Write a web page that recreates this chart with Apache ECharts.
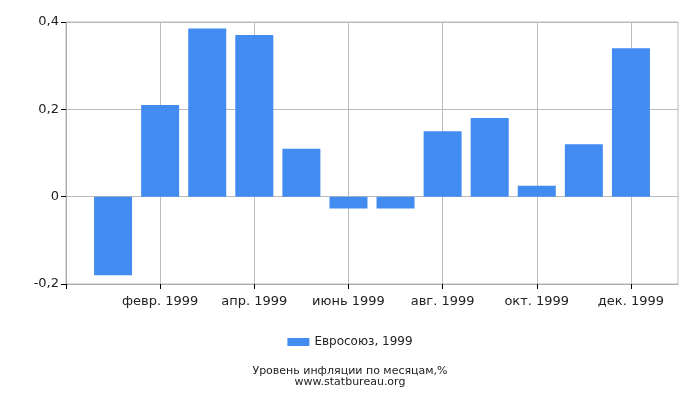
<!DOCTYPE html>
<html><head><meta charset="utf-8">
<script src="https://cdn.jsdelivr.net/npm/echarts@6/dist/echarts.min.js"></script>
<style>html,body{margin:0;padding:0;background:#fff}#c{width:700px;height:400px}</style>
</head><body><div id="c"></div>
<script>
var categories = ['', 'янв. 1999', 'февр. 1999', 'март 1999', 'апр. 1999', 'май 1999', 'июнь 1999', 'июль 1999', 'авг. 1999', 'сент. 1999', 'окт. 1999', 'нояб. 1999', 'дек. 1999', ''];
var values = [null, -0.18, 0.21, 0.385, 0.37, 0.11, -0.027, -0.027, 0.15, 0.18, 0.025, 0.12, 0.34, null];
var yTicks = [-0.2, 0, 0.2, 0.4];
var seriesName = 'Евросоюз, 1999';
var titleLines = ['Уровень инфляции по месяцам,%', 'www.statbureau.org'];

var chart = echarts.init(document.getElementById('c'), null, {renderer: 'canvas'});
var font = 'DejaVu Sans';
chart.setOption({
  animation: false,
  textStyle: {fontFamily: font},
  grid: {left: 66, right: 22, top: 22, bottom: 116, show: true, borderColor: '#bbb', borderWidth: 1},
  xAxis: {
    type: 'category', data: categories, boundaryGap: false,
    axisLine: {onZero: false, lineStyle: {color: '#aaa'}},
    axisTick: {interval: 1, length: 5, lineStyle: {color: '#000'}},
    axisLabel: {interval: 1, color: '#222', fontSize: 13, margin: 11, fontFamily: font},
    splitLine: {show: true, interval: 1, lineStyle: {color: '#bbb'}}
  },
  yAxis: {
    type: 'value', min: yTicks[0], max: yTicks[yTicks.length - 1], interval: 0.2,
    axisLine: {show: true, lineStyle: {color: '#aaa'}},
    axisTick: {show: true, length: 5, lineStyle: {color: '#000'}},
    axisLabel: {color: '#222', fontSize: 13, margin: 7, fontFamily: font,
      formatter: function (v) { return String(Math.round(v * 10) / 10).replace('.', ','); }},
    splitLine: {lineStyle: {color: '#bbb'}}
  },
  legend: {
    left: 'center', itemWidth: 22, itemHeight: 8, itemGap: 5, icon: 'rect',
    top: 331,
    textStyle: {fontSize: 12, color: '#222', fontFamily: font},
    data: [seriesName]
  },
  title: {
    text: titleLines.join('\n'), left: 'center', top: 360,
    textStyle: {fontSize: 11, fontWeight: 'normal', color: '#222', lineHeight: 11.5, fontFamily: font}
  },
  series: [{
    name: seriesName, type: 'bar', data: values, barWidth: 38,
    itemStyle: {color: '#428bf0'}
  }]
});
</script></body></html>
